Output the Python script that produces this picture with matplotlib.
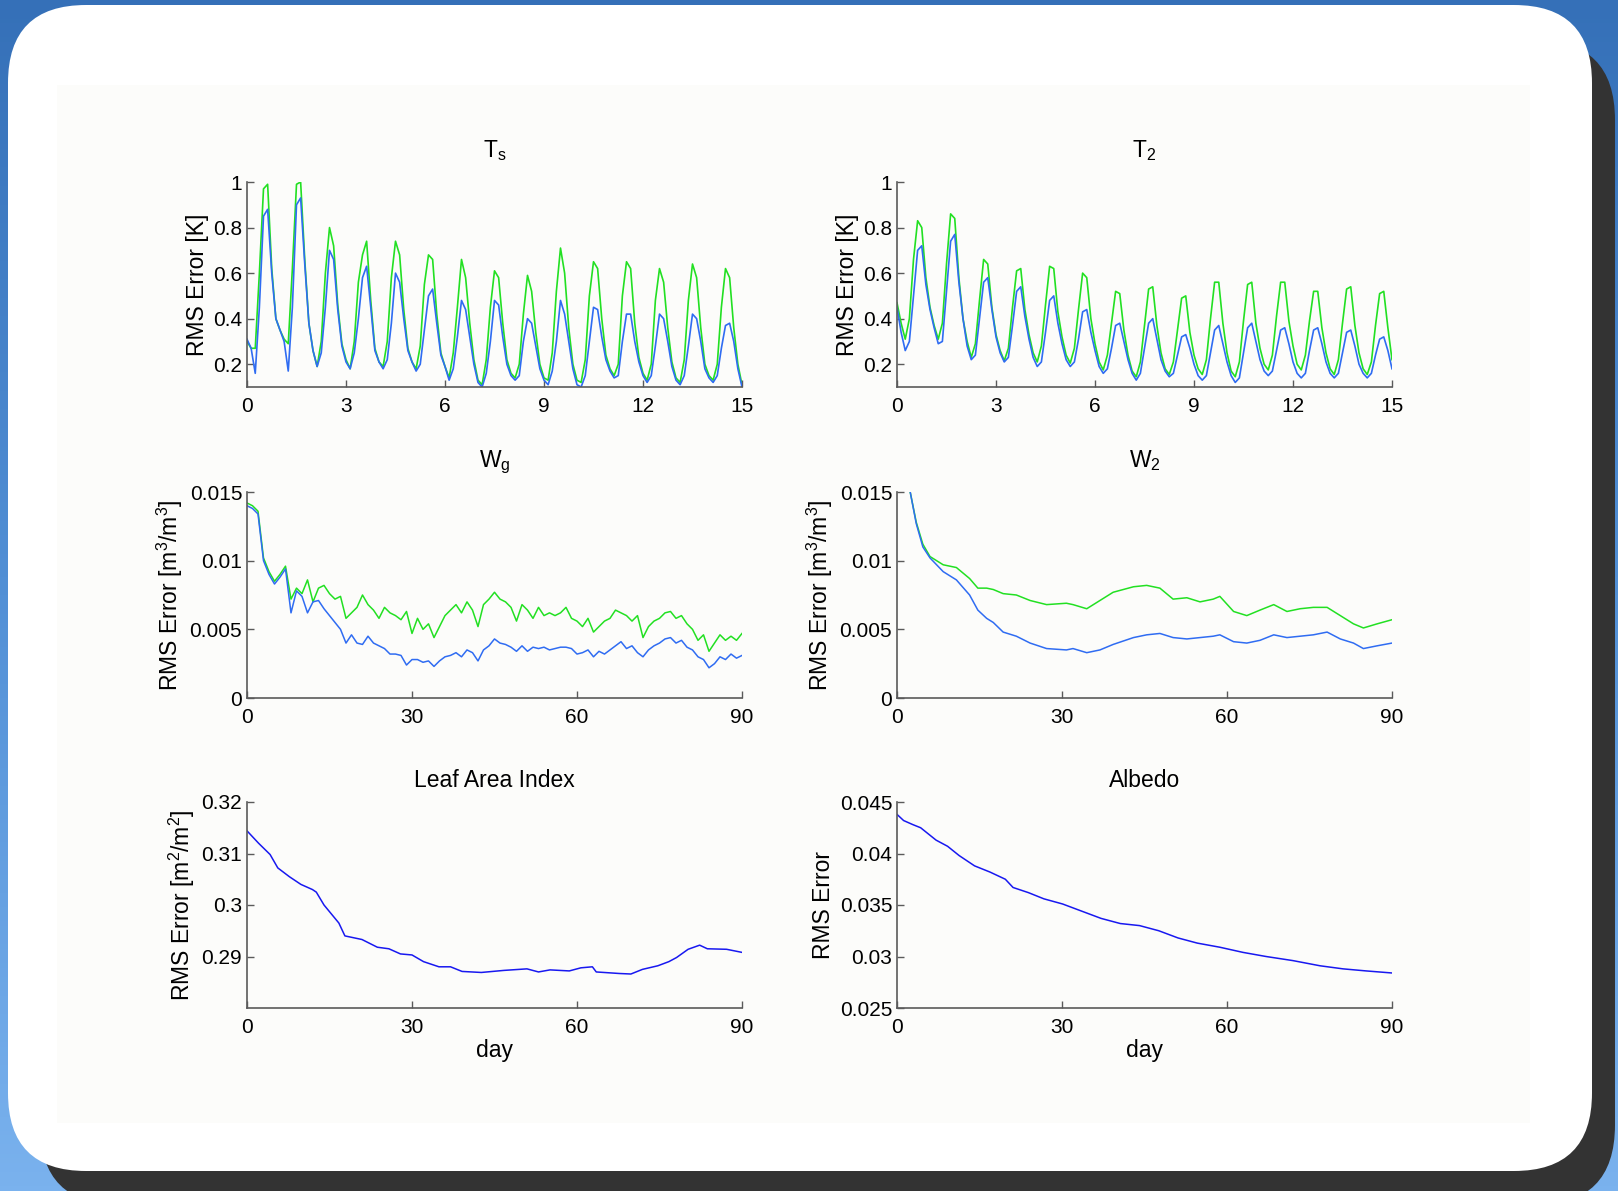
import numpy as np
import matplotlib
matplotlib.use("Agg")
import matplotlib.pyplot as plt
from matplotlib.patches import FancyBboxPatch, Rectangle

plt.rcParams['font.family'] = ['Liberation Sans', 'DejaVu Sans']
plt.rcParams['mathtext.default'] = 'regular'

# ---------------------------------------------------------------- data
# T_s and T_2: 15 days, one value every 3 hours (121 samples)
TS_GREEN = [0.30, 0.27, 0.27, 0.60, 0.97, 0.99, 0.62, 0.40,
            0.35, 0.31, 0.29, 0.62, 0.99, 1.00, 0.66, 0.38,
            0.26, 0.19, 0.30, 0.60, 0.80, 0.72, 0.46, 0.29,
            0.22, 0.18, 0.30, 0.56, 0.68, 0.74, 0.48, 0.27,
            0.21, 0.19, 0.30, 0.58, 0.74, 0.68, 0.44, 0.27,
            0.21, 0.18, 0.28, 0.55, 0.68, 0.66, 0.42, 0.25,
            0.19, 0.14, 0.25, 0.45, 0.66, 0.58, 0.38, 0.22,
            0.13, 0.11, 0.22, 0.45, 0.61, 0.58, 0.38, 0.22,
            0.16, 0.14, 0.20, 0.42, 0.59, 0.52, 0.34, 0.20,
            0.14, 0.13, 0.25, 0.52, 0.71, 0.60, 0.36, 0.20,
            0.13, 0.12, 0.22, 0.50, 0.65, 0.62, 0.40, 0.24,
            0.18, 0.15, 0.20, 0.50, 0.65, 0.62, 0.38, 0.23,
            0.16, 0.13, 0.20, 0.48, 0.62, 0.56, 0.36, 0.21,
            0.14, 0.12, 0.22, 0.48, 0.64, 0.58, 0.36, 0.20,
            0.15, 0.13, 0.20, 0.45, 0.62, 0.58, 0.36, 0.20,
            0.11]
TS_BLUE = [0.31, 0.27, 0.16, 0.45, 0.85, 0.88, 0.60, 0.40,
           0.35, 0.30, 0.17, 0.45, 0.90, 0.93, 0.64, 0.38,
           0.26, 0.19, 0.25, 0.45, 0.70, 0.66, 0.44, 0.28,
           0.21, 0.18, 0.25, 0.40, 0.58, 0.63, 0.45, 0.26,
           0.21, 0.18, 0.22, 0.38, 0.60, 0.56, 0.40, 0.26,
           0.21, 0.17, 0.20, 0.35, 0.50, 0.53, 0.38, 0.24,
           0.19, 0.13, 0.18, 0.32, 0.48, 0.44, 0.32, 0.20,
           0.12, 0.10, 0.16, 0.30, 0.48, 0.46, 0.32, 0.20,
           0.15, 0.13, 0.15, 0.30, 0.40, 0.38, 0.28, 0.18,
           0.13, 0.11, 0.17, 0.30, 0.48, 0.42, 0.30, 0.18,
           0.11, 0.10, 0.15, 0.30, 0.45, 0.44, 0.32, 0.22,
           0.17, 0.14, 0.15, 0.30, 0.42, 0.42, 0.30, 0.21,
           0.15, 0.12, 0.15, 0.28, 0.42, 0.40, 0.30, 0.19,
           0.13, 0.11, 0.15, 0.28, 0.42, 0.40, 0.30, 0.18,
           0.14, 0.12, 0.15, 0.27, 0.37, 0.38, 0.30, 0.18,
           0.10]
T2_GREEN = [0.47, 0.38, 0.31, 0.40, 0.66, 0.83, 0.80, 0.58,
            0.45, 0.37, 0.31, 0.38, 0.64, 0.86, 0.84, 0.58,
            0.40, 0.30, 0.23, 0.29, 0.48, 0.66, 0.64, 0.45,
            0.33, 0.26, 0.215, 0.27, 0.45, 0.61, 0.62, 0.44,
            0.33, 0.25, 0.21, 0.28, 0.46, 0.63, 0.62, 0.43,
            0.32, 0.24, 0.205, 0.27, 0.44, 0.60, 0.58, 0.40,
            0.29, 0.21, 0.175, 0.24, 0.38, 0.52, 0.51, 0.35,
            0.24, 0.17, 0.145, 0.21, 0.37, 0.53, 0.54, 0.37,
            0.25, 0.18, 0.155, 0.21, 0.35, 0.49, 0.50, 0.34,
            0.24, 0.18, 0.155, 0.22, 0.40, 0.56, 0.56, 0.38,
            0.25, 0.17, 0.145, 0.21, 0.39, 0.55, 0.56, 0.38,
            0.27, 0.20, 0.175, 0.24, 0.41, 0.56, 0.56, 0.39,
            0.28, 0.20, 0.175, 0.24, 0.39, 0.52, 0.52, 0.36,
            0.25, 0.18, 0.155, 0.22, 0.38, 0.53, 0.54, 0.37,
            0.25, 0.18, 0.155, 0.21, 0.37, 0.51, 0.52, 0.36,
            0.22]
T2_BLUE = [0.45, 0.34, 0.26, 0.30, 0.50, 0.70, 0.72, 0.55,
           0.44, 0.36, 0.29, 0.30, 0.52, 0.74, 0.77, 0.56,
           0.40, 0.28, 0.22, 0.24, 0.40, 0.56, 0.58, 0.44,
           0.32, 0.25, 0.21, 0.23, 0.37, 0.52, 0.54, 0.41,
           0.31, 0.23, 0.19, 0.21, 0.34, 0.48, 0.50, 0.38,
           0.29, 0.22, 0.19, 0.21, 0.31, 0.43, 0.44, 0.34,
           0.26, 0.19, 0.16, 0.18, 0.27, 0.37, 0.38, 0.30,
           0.22, 0.16, 0.13, 0.16, 0.27, 0.38, 0.40, 0.31,
           0.22, 0.17, 0.145, 0.16, 0.24, 0.32, 0.33, 0.27,
           0.20, 0.15, 0.13, 0.15, 0.25, 0.35, 0.37, 0.29,
           0.21, 0.15, 0.12, 0.14, 0.25, 0.36, 0.38, 0.30,
           0.22, 0.17, 0.15, 0.17, 0.26, 0.35, 0.36, 0.29,
           0.21, 0.16, 0.14, 0.16, 0.26, 0.35, 0.36, 0.29,
           0.21, 0.16, 0.14, 0.16, 0.25, 0.34, 0.35, 0.28,
           0.20, 0.16, 0.14, 0.16, 0.24, 0.31, 0.32, 0.26,
           0.18]

# W_g: daily values, days 0..90
WG_GREEN = [0.0142, 0.0140, 0.0136, 0.0102, 0.0092, 0.0085, 0.0090, 0.0096, 0.0072, 0.0080,
            0.0076, 0.0086, 0.0070, 0.0080, 0.0082, 0.0076, 0.0072, 0.0074, 0.0058, 0.0062,
            0.0066, 0.0075, 0.0068, 0.0064, 0.0058, 0.0066, 0.0062, 0.0060, 0.0057, 0.0063,
            0.0047, 0.0058, 0.0050, 0.0054, 0.0044, 0.0052, 0.0060, 0.0064, 0.0068, 0.0062,
            0.0070, 0.0064, 0.0052, 0.0068, 0.0072, 0.0077, 0.0072, 0.0070, 0.0066, 0.0056,
            0.0068, 0.0064, 0.0058, 0.0066, 0.0060, 0.0062, 0.0060, 0.0062, 0.0066, 0.0058,
            0.0056, 0.0052, 0.0058, 0.0048, 0.0052, 0.0056, 0.0058, 0.0064, 0.0062, 0.0060,
            0.0056, 0.0060, 0.0044, 0.0052, 0.0056, 0.0058, 0.0062, 0.0063, 0.0058, 0.0060,
            0.0054, 0.0050, 0.0042, 0.0046, 0.0034, 0.0040, 0.0046, 0.0042, 0.0045, 0.0042,
            0.0047]
WG_BLUE = [0.0140, 0.0138, 0.0134, 0.0100, 0.0090, 0.0083, 0.0088, 0.0094, 0.0062, 0.0078,
           0.0074, 0.0062, 0.0070, 0.0071, 0.0065, 0.0060, 0.0055, 0.0050, 0.0040, 0.0046,
           0.0040, 0.0039, 0.0045, 0.0040, 0.0038, 0.0036, 0.0032, 0.0032, 0.0031, 0.0024,
           0.0028, 0.0028, 0.0026, 0.0027, 0.0023, 0.0027, 0.0030, 0.0031, 0.0033, 0.0030,
           0.0035, 0.0033, 0.0027, 0.0035, 0.0038, 0.0043, 0.0040, 0.0039, 0.0037, 0.0034,
           0.0038, 0.0034, 0.0037, 0.0036, 0.0037, 0.0035, 0.0036, 0.0037, 0.0037, 0.0036,
           0.0032, 0.0033, 0.0035, 0.0030, 0.0034, 0.0032, 0.0035, 0.0038, 0.0041, 0.0036,
           0.0038, 0.0033, 0.0030, 0.0035, 0.0038, 0.0040, 0.0043, 0.0044, 0.0040, 0.0042,
           0.0037, 0.0035, 0.0030, 0.0028, 0.0022, 0.0025, 0.0030, 0.0028, 0.0032, 0.0029,
           0.0031]

# W_2
W2_DAY = [2.4, 3.5, 4.7, 6.0, 8.4, 10.8, 13.2, 14.7, 16.3, 17.5, 19.3, 21.7, 24.2, 27.2,
          30.8, 32.0, 34.5, 36.9, 39.3, 43.0, 45.4, 47.8, 50.2, 52.7, 55.1, 57.5, 58.7,
          61.2, 63.6, 66.0, 68.5, 70.9, 73.3, 75.7, 78.2, 80.6, 83.0, 84.8, 87.3, 90.0]
W2_GREEN = [0.0150, 0.0128, 0.0112, 0.0103, 0.0097, 0.0095, 0.0087, 0.0080, 0.0080, 0.0079,
            0.0076, 0.0075, 0.0071, 0.0068, 0.0069, 0.0068, 0.0065, 0.0071, 0.0077, 0.0081,
            0.0082, 0.0080, 0.0072, 0.0073, 0.0070, 0.0072, 0.0074, 0.0063, 0.0060, 0.0064,
            0.0068, 0.0063, 0.0065, 0.0066, 0.0066, 0.0060, 0.0054, 0.0051, 0.0054, 0.0057]
W2_BLUE = [0.0150, 0.0127, 0.0110, 0.0102, 0.0092, 0.0086, 0.0075, 0.0064, 0.0058, 0.0055,
           0.0048, 0.0045, 0.0040, 0.0036, 0.0035, 0.0036, 0.0033, 0.0035, 0.0039, 0.0044,
           0.0046, 0.0047, 0.0044, 0.0043, 0.0044, 0.0045, 0.0046, 0.0041, 0.0040, 0.0042,
           0.0046, 0.0044, 0.0045, 0.0046, 0.0048, 0.0043, 0.0040, 0.0036, 0.0038, 0.0040]

# Leaf area index
LAI_DAY = [0, 2.1, 4.2, 5.6, 7.7, 9.8, 11.9, 12.6, 14.0, 16.7, 17.8, 20.9, 23.7, 25.8,
           27.9, 30.0, 32.1, 34.9, 37.0, 39.1, 42.6, 46.7, 50.9, 53.0, 55.1, 58.6, 60.7,
           62.8, 63.5, 67.7, 69.8, 71.9, 74.7, 76.7, 78.1, 80.2, 82.3, 83.7, 87.2, 90.0]
LAI_ERR = [0.3144, 0.3120, 0.3098, 0.3072, 0.3055, 0.3040, 0.3030, 0.3025, 0.3000, 0.2965,
           0.2940, 0.2933, 0.2918, 0.2915, 0.2905, 0.2903, 0.2890, 0.2880, 0.2880, 0.2871,
           0.2869, 0.2873, 0.2876, 0.2870, 0.2874, 0.2872, 0.2878, 0.2880, 0.2870, 0.2867,
           0.2866, 0.2875, 0.2882, 0.2890, 0.2898, 0.2914, 0.2922, 0.2915, 0.2914, 0.2908]

# Albedo
ALB_DAY = [0, 1.2, 2.9, 4.3, 5.7, 7.1, 9.2, 11.3, 14.1, 16.9, 19.7, 21.1, 23.9, 26.7,
           30.1, 33.6, 37.1, 40.6, 44.1, 47.6, 51.1, 54.6, 58.7, 62.9, 67.1, 72.0, 76.9,
           81.1, 85.3, 90.0]
ALB_ERR = [0.0438, 0.0432, 0.0428, 0.0425, 0.0419, 0.0413, 0.0407, 0.0398, 0.0388, 0.0382,
           0.0375, 0.0367, 0.0362, 0.0356, 0.0351, 0.0344, 0.0337, 0.0332, 0.0330, 0.0325,
           0.0318, 0.0313, 0.0309, 0.0304, 0.0300, 0.0296, 0.0291, 0.0288, 0.0286, 0.0284]

# ---------------------------------------------------------------- figure
W, H = 1618, 1191
fig = plt.figure(figsize=(W / 100, H / 100), dpi=100)

# slide background: blue backdrop, shadowed white card, off-white plot area
bg = fig.add_axes([0, 0, 1, 1])
bg.set_xlim(0, W)
bg.set_ylim(H, 0)
bg.axis('off')
grad = np.linspace(0, 1, 256).reshape(-1, 1)
bg.imshow(grad, extent=(0, W, H, 0), aspect='auto', cmap=matplotlib.colors.LinearSegmentedColormap.from_list(
    'sky', ['#3570b8', '#5290d6', '#7ab2ee']), zorder=0)
bg.add_patch(FancyBboxPatch((40, 40), 1615 - 40, 1205 - 40,
                            boxstyle="round,pad=0,rounding_size=80",
                            fc='#333333', ec='none', zorder=1))
bg.add_patch(FancyBboxPatch((8, 5), 1592 - 8, 1171 - 5,
                            boxstyle="round,pad=0,rounding_size=78",
                            fc='white', ec='none', zorder=2))
bg.add_patch(Rectangle((57, 85), 1530 - 57, 1123 - 85, fc='#fcfcfa', ec='none', zorder=3))

GREEN = '#22e022'
BLUE = '#2f6cf2'
SPINE = '#5a5a5a'
TICK_FS = 15
LAB_FS = 16.5


def make_axes(left_px, top_px, w_px=495, h_px=206):
    ax = fig.add_axes([left_px / W, (H - top_px - h_px) / H, w_px / W, h_px / H])
    ax.set_facecolor('none')
    for s in ('top', 'right'):
        ax.spines[s].set_visible(False)
    for s in ('left', 'bottom'):
        ax.spines[s].set_color(SPINE)
        ax.spines[s].set_linewidth(1.2)
    ax.tick_params(direction='in', length=5, width=1, color=SPINE,
                   labelsize=TICK_FS, pad=3.5)
    return ax


def style(ax, title, ylabel, xticks, yticks, ylabels, ylim, xlabel=None, tpad=12):
    ax.set_title(title, fontsize=LAB_FS, pad=tpad)
    ax.set_ylabel(ylabel, fontsize=LAB_FS, labelpad=3)
    ax.set_xlim(xticks[0], xticks[-1])
    ax.set_ylim(*ylim)
    ax.set_xticks(xticks)
    ax.set_xticklabels([str(t) for t in xticks])
    ax.tick_params(axis='x', pad=7)
    ax.set_yticks(yticks)
    ax.set_yticklabels(ylabels)
    if xlabel:
        ax.set_xlabel(xlabel, fontsize=LAB_FS, labelpad=2)


hours = np.arange(len(TS_GREEN)) / 8.0
days = np.arange(len(WG_GREEN))

# T_s
ax = make_axes(247, 182, h_px=205)
ax.plot(hours, TS_GREEN, color=GREEN, lw=1.2)
ax.plot(hours, TS_BLUE, color=BLUE, lw=1.2)
style(ax, 'T$_s$', 'RMS Error [K]', [0, 3, 6, 9, 12, 15],
      [0.2, 0.4, 0.6, 0.8, 1.0], ['0.2', '0.4', '0.6', '0.8', '1'], (0.1, 1.0), tpad=18)

# T_2
ax = make_axes(897, 182, h_px=205)
ax.plot(hours, T2_GREEN, color=GREEN, lw=1.2)
ax.plot(hours, T2_BLUE, color=BLUE, lw=1.2)
style(ax, 'T$_2$', 'RMS Error [K]', [0, 3, 6, 9, 12, 15],
      [0.2, 0.4, 0.6, 0.8, 1.0], ['0.2', '0.4', '0.6', '0.8', '1'], (0.1, 1.0), tpad=18)

w_ticks = [0, 0.005, 0.01, 0.015]
w_labels = ['0', '0.005', '0.01', '0.015']

# W_g
ax = make_axes(247, 492)
ax.plot(days, WG_GREEN, color=GREEN, lw=1.1)
ax.plot(days, WG_BLUE, color=BLUE, lw=1.1)
style(ax, 'W$_g$', 'RMS Error [m$^3$/m$^3$]', [0, 30, 60, 90],
      w_ticks, w_labels, (0, 0.015), tpad=18)

# W_2
ax = make_axes(897, 492)
ax.plot(W2_DAY, W2_GREEN, color=GREEN, lw=1.1)
ax.plot(W2_DAY, W2_BLUE, color=BLUE, lw=1.1)
style(ax, 'W$_2$', 'RMS Error [m$^3$/m$^3$]', [0, 30, 60, 90],
      w_ticks, w_labels, (0, 0.015), tpad=18)

# Leaf area index
ax = make_axes(247, 802)
ax.plot(LAI_DAY, LAI_ERR, color='#1818f0', lw=1.1)
style(ax, 'Leaf Area Index', 'RMS Error [m$^2$/m$^2$]', [0, 30, 60, 90],
      [0.29, 0.30, 0.31, 0.32], ['0.29', '0.3', '0.31', '0.32'], (0.28, 0.32),
      xlabel='day', tpad=11)

# Albedo
ax = make_axes(897, 802)
ax.plot(ALB_DAY, ALB_ERR, color='#1818f0', lw=1.1)
style(ax, 'Albedo', 'RMS Error', [0, 30, 60, 90],
      [0.025, 0.03, 0.035, 0.04, 0.045], ['0.025', '0.03', '0.035', '0.04', '0.045'],
      (0.025, 0.045), xlabel='day', tpad=11)

fig.savefig('out.png', dpi=100)
